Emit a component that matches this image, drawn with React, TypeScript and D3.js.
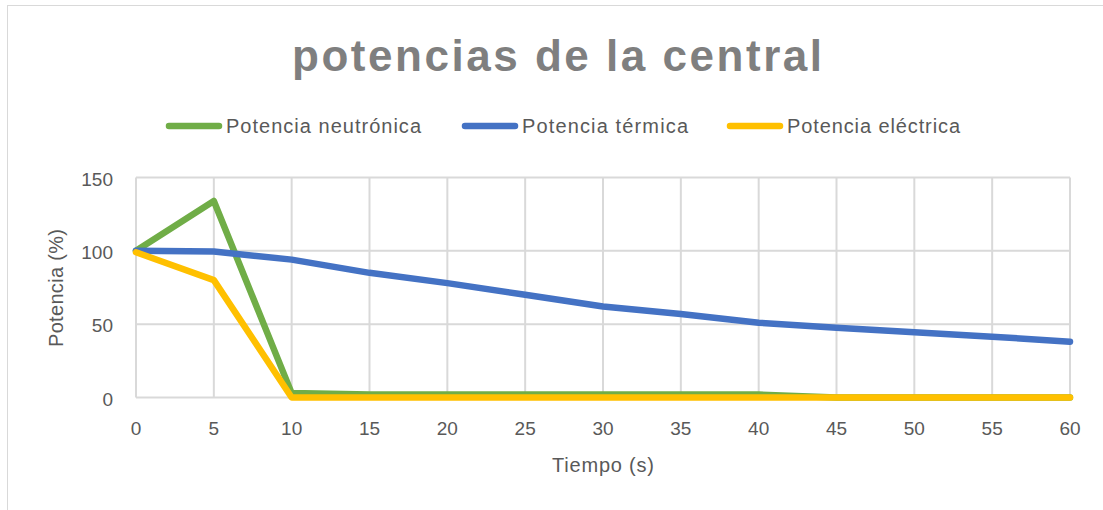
import React from "react";
import * as d3 from "d3";

const times = [0, 5, 10, 15, 20, 25, 30, 35, 40, 45, 50, 55, 60];
const neutronica = [100, 134, 3, 2, 2, 2, 2, 2, 2, 0, 0, 0, 0];
const termica = [100, 99.5, 94, 85, 78, 70, 62, 57, 51, 47.5, 44.5, 41.5, 38];
const electrica = [99, 80, 0, 0, 0, 0, 0, 0, 0, 0, 0, 0, 0];
const xTicks = [0, 5, 10, 15, 20, 25, 30, 35, 40, 45, 50, 55, 60];
const yTicks = [0, 50, 100, 150];

const seriesNames = ["Potencia neutrónica", "Potencia térmica", "Potencia eléctrica"];
const seriesColors = ["#70ad47", "#4472c4", "#ffc000"];

export default function App() {
  const W = 1103, H = 510;
  const x = d3.scaleLinear().domain([0, 60]).range([136, 1070]);
  const y = d3.scaleLinear().domain([0, 150]).range([397.5, 177.5]);
  const font = "Liberation Sans, Arial, sans-serif";
  const series = [neutronica, termica, electrica];
  const line = d3.line<number>().x((_, i) => x(times[i])).y((d) => y(d));
  const legendX = [166, 462, 727];
  const legendLen = [195, 166, 173];
  return (
    <svg width={W} height={H} style={{ position: "absolute", left: 0, top: 0, background: "#fff" }}>
      <rect x={0} y={0} width={W} height={H} fill="#fff" />
      <rect x={7.5} y={5.5} width={1300} height={700} fill="none" stroke="#d9d9d9" strokeWidth={1} />
      <text x={557} y={71} textAnchor="middle" fontFamily={font} fontWeight="bold" fontSize={44}
        fill="#7f7f7f" textLength={530} lengthAdjust="spacing">potencias de la central</text>
      {seriesNames.map((n, i) => (
        <g key={n}>
          <line x1={legendX[i] + 3} x2={legendX[i] + 53} y1={126} y2={126} stroke={seriesColors[i]}
            strokeWidth={6.5} strokeLinecap="round" />
          <text x={legendX[i] + 60} y={133} fontFamily={font} fontSize={20} fill="#595959"
            textLength={legendLen[i]} lengthAdjust="spacing">{n}</text>
        </g>
      ))}
      {yTicks.map((t) => (
        <g key={"y" + t}>
          <line x1={x(0)} x2={x(60)} y1={y(t)} y2={y(t)} stroke="#d9d9d9" strokeWidth={2} />
          <text x={113} y={y(t) + 8} textAnchor="end" fontFamily={font} fontSize={19} fill="#595959">{t}</text>
        </g>
      ))}
      {xTicks.map((t) => (
        <g key={"x" + t}>
          <line x1={x(t)} x2={x(t)} y1={y(0)} y2={y(150)} stroke="#d9d9d9" strokeWidth={2} />
          <text x={x(t)} y={435} textAnchor="middle" fontFamily={font} fontSize={19} fill="#595959">{t}</text>
        </g>
      ))}
      <text x={603} y={472} textAnchor="middle" fontFamily={font} fontSize={20} fill="#595959"
        textLength={102} lengthAdjust="spacing">Tiempo (s)</text>
      <text transform={`translate(63,288) rotate(-90)`} textAnchor="middle" fontFamily={font} fontSize={20}
        fill="#595959" textLength={118} lengthAdjust="spacing">Potencia (%)</text>
      {series.map((s, i) => (
        <path key={i} d={line(s) || ""} fill="none" stroke={seriesColors[i]} strokeWidth={6.5}
          strokeLinejoin="round" strokeLinecap="round" />
      ))}
    </svg>
  );
}
